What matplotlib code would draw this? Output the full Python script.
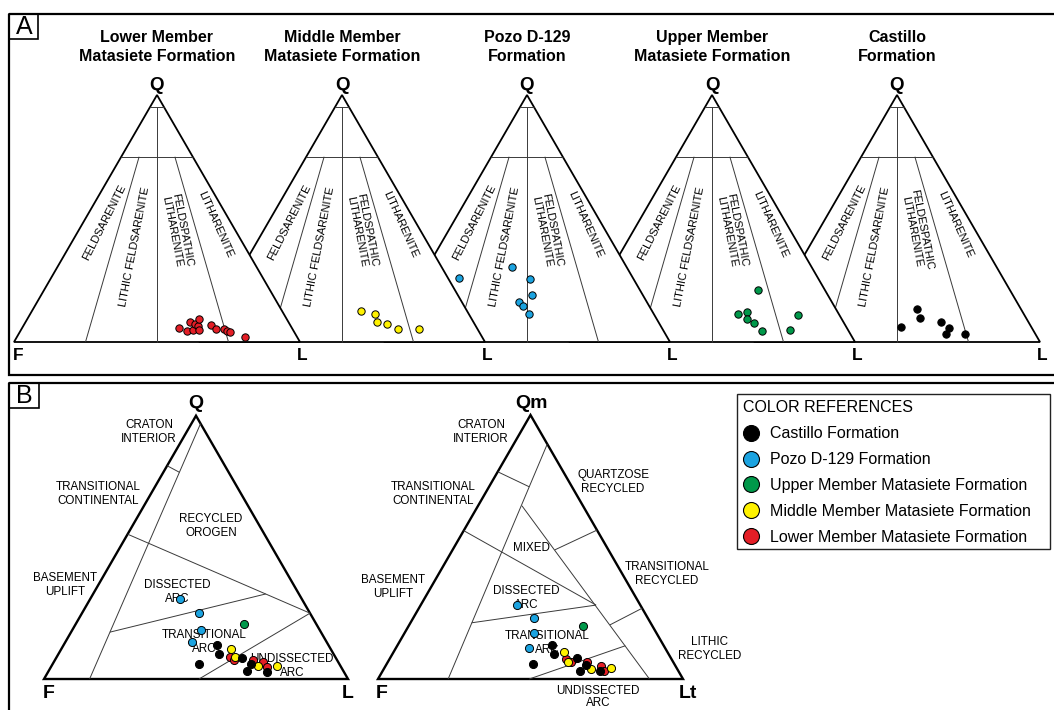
import numpy as np
import matplotlib
matplotlib.use("Agg")
import matplotlib.pyplot as plt
from matplotlib.patches import Polygon, Rectangle
from matplotlib.lines import Line2D

plt.rcParams['font.family'] = ['Liberation Sans', 'DejaVu Sans']

# ---- panel A data (Folk QFL), percent Q, F, L ----
lower_q = [5.5, 4.6, 8.1, 4.9, 7.2, 6.6, 4.7, 9.3, 7.0, 5.4, 5.3, 4.5, 4.2, 2.0]
lower_f = [39.5, 37.3, 34.4, 34.9, 33.1, 32.3, 33.1, 30.6, 27.7, 26.8, 23.9, 23.4, 22.4, 18.1]
lower_l = [55.0, 58.1, 57.5, 60.2, 59.7, 61.1, 62.2, 60.1, 65.3, 67.8, 70.8, 72.1, 73.4, 79.9]

middle_q = [12.7, 11.3, 8.0, 7.3, 5.1, 5.3]
middle_f = [37.0, 32.8, 33.6, 30.7, 28.0, 20.5]
middle_l = [50.3, 55.9, 58.4, 62.0, 66.9, 74.2]

pozo_q = [25.8, 30.5, 25.4, 19.0, 16.3, 14.6, 11.3]
pozo_f = [60.8, 40.0, 36.2, 38.9, 44.7, 44.0, 43.7]
pozo_l = [13.4, 29.5, 38.4, 42.1, 39.0, 41.4, 45.0]

upper_q = [21.1, 11.3, 12.0, 9.2, 7.6, 4.5, 4.9, 10.8]
upper_f = [23.4, 35.1, 31.6, 33.3, 31.5, 30.1, 20.3, 14.6]
upper_l = [55.5, 53.6, 56.4, 57.5, 60.9, 65.4, 74.8, 74.6]

castillo_q = [13.2, 9.6, 6.0, 8.2, 5.5, 3.2, 3.1]
castillo_f = [36.3, 37.2, 45.5, 30.5, 29.0, 31.1, 24.8]
castillo_l = [50.5, 53.2, 48.5, 61.3, 65.5, 65.7, 72.1]

# ---- panel B data, QFL (Dickinson) ----
qfl_castillo = ([12.8, 9.4, 5.8, 8.1, 5.6, 3.0, 2.8],
                [36.8, 37.7, 46.0, 30.9, 29.2, 31.6, 25.4],
                [50.4, 52.9, 48.2, 61.0, 65.2, 65.4, 71.8])
qfl_pozo = ([30.3, 25.0, 18.6, 13.9], [40.1, 36.4, 39.1, 44.3], [29.6, 38.6, 42.3, 41.8])
qfl_upper = ([20.8], [23.7], [55.5])
qfl_middle = ([11.4, 8.2, 5.0, 4.9], [32.8, 33.2, 27.0, 20.8], [55.8, 58.6, 68.0, 74.3])
qfl_lower = ([8.5, 7.2, 7.2, 6.3, 4.4], [34.6, 33.8, 27.8, 24.7, 24.5], [56.9, 59.0, 65.0, 69.0, 71.1])

# ---- panel B data, QmFLt ----
qmflt_castillo = ([13.0, 9.5, 5.6, 8.0, 5.2, 3.1, 3.1],
                  [36.5, 37.6, 46.4, 30.8, 29.3, 32.2, 25.6],
                  [50.5, 52.9, 48.0, 61.2, 65.5, 64.7, 71.3])
qmflt_pozo = ([28.0, 23.2, 17.3, 11.6], [40.5, 37.2, 40.1, 44.8], [31.5, 39.6, 42.6, 43.6])
qmflt_upper = ([20.1], [22.6], [57.3])
qmflt_middle = ([10.3, 6.3, 3.7, 4.0], [33.9, 34.6, 28.3, 21.7], [55.8, 59.1, 68.0, 74.3])
qmflt_lower = ([7.7, 6.4, 6.3, 5.0, 3.1], [34.5, 33.5, 28.3, 24.5, 24.4], [57.8, 60.2, 65.4, 70.5, 72.5])

formations = ["Castillo Formation", "Pozo D-129 Formation", "Upper Member Matasiete Formation",
              "Middle Member Matasiete Formation", "Lower Member Matasiete Formation"]
colors = ["#000000", "#1BA3E0", "#00984A", "#FFF200", "#E41E26"]

titles_a = ["Lower Member\nMatasiete Formation", "Middle Member\nMatasiete Formation",
            "Pozo D-129\nFormation", "Upper Member\nMatasiete Formation", "Castillo\nFormation"]


def tern(q, f, l, corners):
    q = np.asarray(q, float)
    f = np.asarray(f, float)
    l = np.asarray(l, float)
    s = q + f + l
    (xq, yq), (xf, yf), (xl, yl) = corners
    x = (q * xq + f * xf + l * xl) / s
    y = (q * yq + f * yf + l * yl) / s
    return x, y


def tline(ax, p1, p2, corners, lw=0.7, color="#3a3a3a", z=1):
    x1, y1 = tern(*p1, corners)
    x2, y2 = tern(*p2, corners)
    ax.plot([x1, x2], [y1, y2], color=color, lw=lw, zorder=z, solid_capstyle="butt")


def triangle(ax, corners, z, lw=1.3):
    pts = np.array(corners)
    ax.add_patch(Polygon(pts, closed=True, facecolor="white", edgecolor="black",
                         lw=lw, zorder=z, joinstyle="miter"))


fig = plt.figure(figsize=(10.54, 7.10), dpi=100)
ax = fig.add_axes([0, 0, 1, 1])
ax.set_xlim(0, 1054)
ax.set_ylim(710, 0)
ax.axis("off")

# panel frames
ax.add_patch(Rectangle((9, 14), 1070, 361, fill=False, lw=1.6, edgecolor="black", zorder=50))
ax.add_patch(Rectangle((9, 383), 1070, 360, fill=False, lw=1.6, edgecolor="black", zorder=50))
ax.add_patch(Rectangle((9, 14), 29, 25, fill=False, lw=1.2, edgecolor="black", zorder=50))
ax.add_patch(Rectangle((9, 383), 30, 25, fill=False, lw=1.2, edgecolor="black", zorder=50))
ax.text(24, 27.5, "A", fontsize=18, ha="center", va="center", zorder=51)
ax.text(24, 396, "B", fontsize=18, ha="center", va="center", zorder=51)

# ---------------- panel A ----------------
a_data = [(lower_q, lower_f, lower_l, colors[4]),
          (middle_q, middle_f, middle_l, colors[3]),
          (pozo_q, pozo_f, pozo_l, colors[1]),
          (upper_q, upper_f, upper_l, colors[2]),
          (castillo_q, castillo_f, castillo_l, colors[0])]

for i in range(5):
    xf = 14 + 185 * i
    corners = [(xf + 143, 95), (xf, 342), (xf + 286, 342)]
    z = 20 - 3 * i
    triangle(ax, corners, z)
    tline(ax, (95, 5, 0), (95, 0, 5), corners, z=z + 0.5)
    tline(ax, (75, 25, 0), (75, 0, 25), corners, z=z + 0.5)
    tline(ax, (95, 2.5, 2.5), (0, 50, 50), corners, z=z + 0.5)
    tline(ax, (75, 18.75, 6.25), (0, 75, 25), corners, z=z + 0.5)
    tline(ax, (75, 6.25, 18.75), (0, 25, 75), corners, z=z + 0.5)
    ax_ = xf + 143
    fs = 8.0
    ax.text(ax_ - 53, 222, "FELDSARENITE", rotation=63, fontsize=fs, ha="center", va="center", zorder=z + 1)
    ax.text(ax_ - 22, 247, "LITHIC FELDSARENITE", rotation=79, fontsize=fs, ha="center", va="center", zorder=z + 1)
    fel = "FELDESPATHIC" if i == 4 else "FELDSPATHIC"
    ax.text(ax_ + 20, 231, fel + "\nLITHARENITE", rotation=-79, fontsize=fs, ha="center", va="center",
            linespacing=1.0, zorder=z + 1)
    ax.text(ax_ + 58, 225, "LITHARENITE", rotation=-66, fontsize=fs, ha="center", va="center", zorder=z + 1)

    ax.text(ax_, 47, titles_a[i], fontsize=11.5, fontweight="bold", ha="center", va="center",
            linespacing=1.35, zorder=40)
    ax.text(ax_, 85, "Q", fontsize=13.5, fontweight="bold", ha="center", va="center", zorder=40)
    ax.text(xf + 288, 356, "L", fontsize=12.5, fontweight="bold", ha="center", va="center", zorder=40)
    if i == 0:
        ax.text(xf + 4, 356, "F", fontsize=12.5, fontweight="bold", ha="center", va="center", zorder=40)

    q, f, l, c = a_data[i]
    x, y = tern(q, f, l, corners)
    ax.scatter(x, y, s=28, color=c, edgecolor="black", linewidth=0.7, zorder=45)

# ---------------- panel B, QFL ----------------
c1 = [(196, 415.7), (44, 679), (348, 679)]
triangle(ax, c1, 5, lw=1.7)
tline(ax, (81, 19, 0), (78.5, 16.2, 5.3), c1, z=6)
tline(ax, (97, 0, 3), (0, 85, 15), c1, z=6)
tline(ax, (55, 45, 0), (25, 0, 75), c1, z=6)
tline(ax, (17.8, 69.4, 12.8), (32.3, 10.9, 56.8), c1, z=6)
tline(ax, (0, 49, 51), (25, 0, 75), c1, z=6)

lab_fs = 8.4
lab_ls = 1.3
for txt, x, y in [("CRATON\nINTERIOR", 149, 432), ("TRANSITIONAL\nCONTINENTAL", 98, 494),
                  ("RECYCLED\nOROGEN", 211, 526), ("BASEMENT\nUPLIFT", 65, 585),
                  ("DISSECTED\nARC", 177, 592), ("TRANSITIONAL\nARC", 204, 642),
                  ("UNDISSECTED\nARC", 292, 666)]:
    ax.text(x, y, txt, fontsize=lab_fs, ha="center", va="center", linespacing=lab_ls, zorder=7)
ax.text(196, 404, "Q", fontsize=14, fontweight="bold", ha="center", va="center")
ax.text(49, 693, "F", fontsize=14, fontweight="bold", ha="center", va="center")
ax.text(348, 693, "L", fontsize=14, fontweight="bold", ha="center", va="center")

# ---------------- panel B, QmFLt ----------------
c2 = [(530.5, 415), (378, 679), (683, 679)]
triangle(ax, c2, 5, lw=1.7)
tline(ax, (78.5, 21.5, 0), (72.8, 14.0, 13.2), c2, z=6)
tline(ax, (89, 0, 11), (0, 77, 23), c2, z=6)
tline(ax, (56.2, 43.8, 0), (28.0, 14.5, 57.5), c2, z=6)
tline(ax, (65.6, 20.0, 14.4), (0, 11, 89), c2, z=6)
tline(ax, (56.4, 0, 43.6), (48.9, 17.6, 33.5), c2, z=6)
tline(ax, (26.8, 0, 73.2), (20.5, 13.7, 65.8), c2, z=6)
tline(ax, (21.3, 58.6, 20.1), (28.0, 14.5, 57.5), c2, z=6)
tline(ax, (0, 50.4, 49.6), (12.6, 12.6, 74.8), c2, z=6)

for txt, x, y in [("CRATON\nINTERIOR", 481, 432), ("TRANSITIONAL\nCONTINENTAL", 433, 494),
                  ("QUARTZOSE\nRECYCLED", 613, 482), ("MIXED", 531, 548),
                  ("TRANSITIONAL\nRECYCLED", 667, 574), ("BASEMENT\nUPLIFT", 393, 587),
                  ("DISSECTED\nARC", 526, 598), ("TRANSITIONAL\nARC", 547, 643),
                  ("LITHIC\nRECYCLED", 710, 649)]:
    ax.text(x, y, txt, fontsize=lab_fs, ha="center", va="center", linespacing=lab_ls, zorder=7)
# bottom label sits at the lower edge of the figure
ax.text(598, 697, "UNDISSECTED\nARC", fontsize=lab_fs, ha="center", va="center", linespacing=1.1, zorder=7)
ax.text(531, 404, "Qm", fontsize=14, fontweight="bold", ha="center", va="center")
ax.text(382, 693, "F", fontsize=14, fontweight="bold", ha="center", va="center")
ax.text(688, 693, "Lt", fontsize=14, fontweight="bold", ha="center", va="center")

b_qfl = [qfl_lower, qfl_middle, qfl_castillo, qfl_pozo, qfl_upper]
b_qm = [qmflt_lower, qmflt_middle, qmflt_castillo, qmflt_pozo, qmflt_upper]
b_col = [colors[4], colors[3], colors[0], colors[1], colors[2]]
for d1, d2, c in zip(b_qfl, b_qm, b_col):
    x, y = tern(*d1, c1)
    ax.scatter(x, y, s=34, color=c, edgecolor="black", linewidth=0.7, zorder=45)
    x, y = tern(*d2, c2)
    ax.scatter(x, y, s=34, color=c, edgecolor="black", linewidth=0.7, zorder=45)

# legend (frame drawn separately so it can be wider than its content)
ax.add_patch(Rectangle((737, 393.5), 313, 155.5, fill=False, lw=1.0, edgecolor="#222222", zorder=59))
handles = [Line2D([], [], ls="none", marker="o", markersize=11.5, markerfacecolor=c,
                  markeredgecolor="black", markeredgewidth=0.8) for c in colors]
leg = ax.legend(handles, formations, title="COLOR REFERENCES", loc="upper left",
                bbox_to_anchor=(737 / 1054, 1 - 394 / 710), bbox_transform=fig.transFigure,
                fontsize=11.5, title_fontsize=11.5, frameon=False,
                borderaxespad=0, borderpad=0.4, handlelength=1.0,
                handletextpad=0.65, labelspacing=0.68, alignment="left")
leg.set_zorder(60)

fig.savefig("out.png", dpi=100)
